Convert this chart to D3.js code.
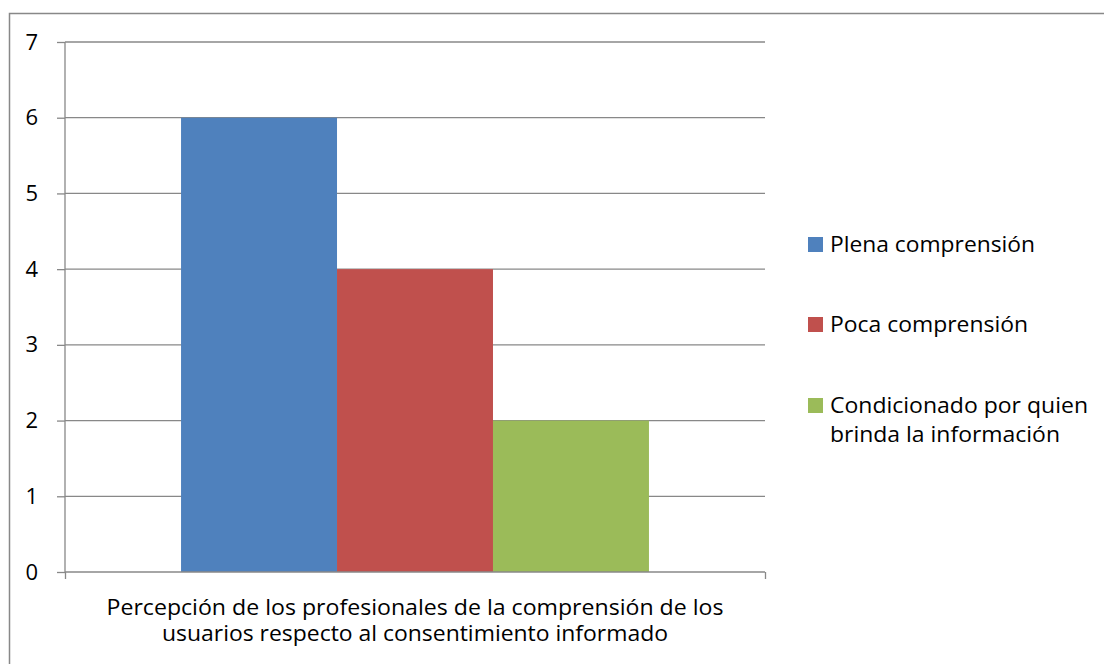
<!DOCTYPE html>
<html><head><meta charset="utf-8">
<script src="https://cdn.jsdelivr.net/npm/d3@7"></script>
<style>body{margin:0;background:#fff}svg{display:block}text{font-family:"Open Sans",Lato,sans-serif;fill:#000}</style>
</head><body><svg id="c" width="1104" height="664"></svg>
<script>
const categories = ["Percepción de los profesionales de la comprensión de los usuarios respecto al consentimiento informado"];
const categoryLines = ["Percepción de los profesionales de la comprensión de los", "usuarios respecto al consentimiento informado"];
const seriesNames = ["Plena comprensión", "Poca comprensión", "Condicionado por quien brinda la información"];
const seriesLegendLines = [["Plena comprensión"], ["Poca comprensión"], ["Condicionado por quien", "brinda la información"]];
const seriesValues = [6, 4, 2];
const seriesColors = ["#4F81BD", "#C0504D", "#9BBB59"];
const yTicks = [0, 1, 2, 3, 4, 5, 6, 7];

const svg = d3.select("#c");
svg.append("rect").attr("x", 9.5).attr("y", 13.5).attr("width", 1120).attr("height", 700)
  .attr("fill", "none").attr("stroke", "#888").attr("stroke-width", 1.5);

const L = 65, R = 765, T = 42, B = 572;
const y = d3.scaleLinear().domain([0, 7]).range([B, T]);
const x0 = d3.scaleBand().domain(categories).range([L, R]).paddingInner(0).paddingOuter(0.248);
const x1 = d3.scaleBand().domain(seriesNames).range([0, x0.bandwidth()]);

// gridlines
svg.append("g").selectAll("line").data(yTicks.filter(d => d > 0)).join("line")
  .attr("x1", L).attr("x2", R).attr("y1", d => y(d)).attr("y2", d => y(d))
  .attr("stroke", "#888").attr("stroke-width", 1.3);

// bars
const cat = categories[0];
svg.append("g").selectAll("rect").data(seriesValues).join("rect")
  .attr("x", (d, i) => x0(cat) + x1(seriesNames[i]))
  .attr("width", x1.bandwidth())
  .attr("y", d => y(d)).attr("height", d => B - y(d))
  .attr("fill", (d, i) => seriesColors[i]);

// y axis
const yAxis = svg.append("g").attr("transform", `translate(${L},0)`)
  .call(d3.axisLeft(y).tickValues(yTicks).tickSize(8).tickPadding(19).tickFormat(d3.format("d")));
yAxis.select(".domain").attr("stroke", "#888").attr("stroke-width", 1.3).attr("d", `M0,${T}V${B}`);
yAxis.selectAll(".tick line").attr("stroke", "#888").attr("stroke-width", 1.3);
yAxis.selectAll(".tick text").attr("font-size", 22).attr("font-family", "'Open Sans', sans-serif").attr("fill", "#000");

// x axis
const xAxis = svg.append("g").attr("transform", `translate(0,${B})`)
  .call(d3.axisBottom(d3.scaleLinear().domain([0, 1]).range([L, R])).tickValues([0, 1]).tickSize(7).tickFormat(""));
xAxis.select(".domain").attr("stroke", "#888").attr("stroke-width", 1.3).attr("d", `M${L},0H${R}`);
xAxis.selectAll(".tick line").attr("stroke", "#888").attr("stroke-width", 1.3);

// category label
const cx = (L + R) / 2;
const catWidths = [617, 506];
svg.append("g").selectAll("text").data(categoryLines).join("text")
  .attr("text-anchor", "middle").attr("font-size", 21)
  .attr("x", cx).attr("y", (d, i) => 614.5 + i * 26)
  .attr("textLength", (d, i) => catWidths[i]).attr("lengthAdjust", "spacingAndGlyphs")
  .text(d => d);

// legend
const legY = [244.5, 324.5, 405.5];
const legWidths = [[205], [198], [258, 230]];
const lg = svg.append("g");
seriesNames.forEach((s, i) => {
  lg.append("rect").attr("x", 808).attr("y", legY[i] - 7.5).attr("width", 15).attr("height", 15).attr("fill", seriesColors[i]);
  seriesLegendLines[i].forEach((line, j) => {
    lg.append("text").attr("font-size", 22).attr("x", 830).attr("y", legY[i] + 7 + j * 29)
      .attr("textLength", legWidths[i][j]).attr("lengthAdjust", "spacingAndGlyphs").text(line);
  });
});
</script></body></html>
